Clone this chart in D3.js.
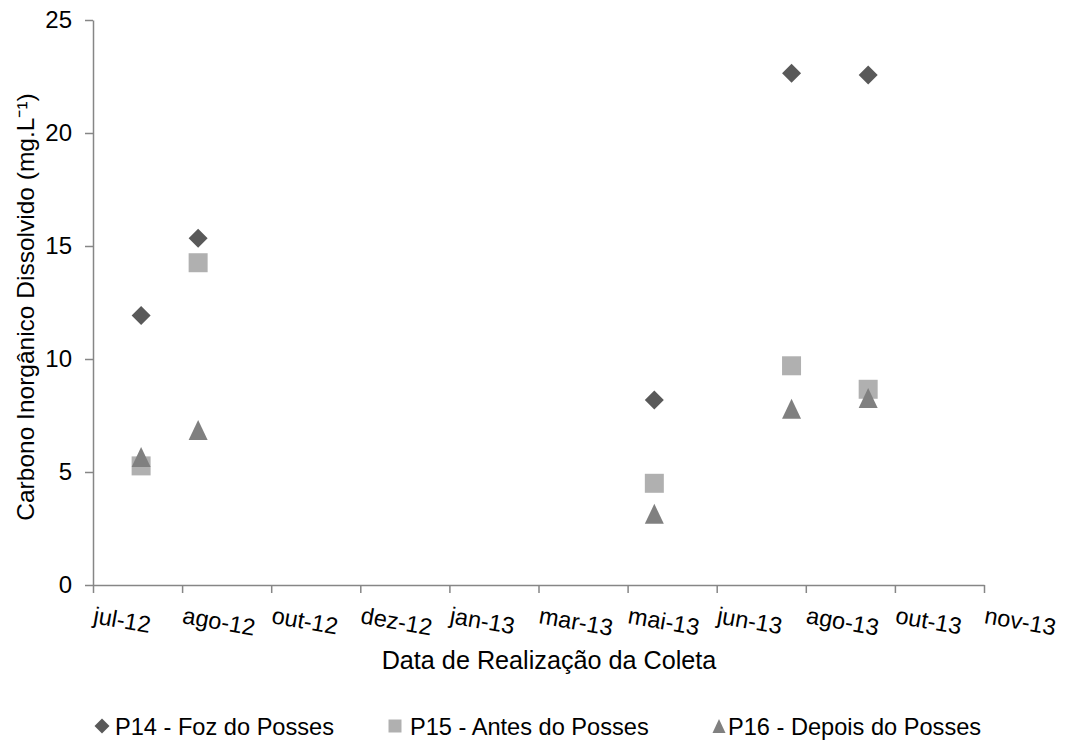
<!DOCTYPE html>
<html>
<head>
<meta charset="utf-8">
<script src="https://cdn.jsdelivr.net/npm/d3@7"></script>
<style>
  html, body { margin: 0; padding: 0; background: #fff; }
  svg { display: block; font-family: "Liberation Sans", Arial, sans-serif; }
</style>
</head>
<body>
<svg id="chart" width="1075" height="742"></svg>
<script>
// Sampling dates for each collection
const sampleDates = ["2012-08-06", "2012-09-07", "2013-05-21", "2013-08-06", "2013-09-18"];

// Dissolved inorganic carbon (mg/L) per sampling point
const p14 = [11.92, 15.34, 8.19, 22.64, 22.57];
const p15 = [5.27, 14.26, 4.50, 9.70, 8.66];
const p16 = [5.66, 6.86, 3.15, 7.80, 8.27];

const seriesNames = ["P14 - Foz do Posses", "P15 - Antes do Posses", "P16 - Depois do Posses"];

// Date axis ticks (50-day major unit)
const tickDates = ["2012-07-10", "2012-08-29", "2012-10-18", "2012-12-07", "2013-01-26",
                   "2013-03-17", "2013-05-06", "2013-06-25", "2013-08-14", "2013-10-03", "2013-11-22"];
const tickLabels = ["jul-12", "ago-12", "out-12", "dez-12", "jan-13", "mar-13",
                    "mai-13", "jun-13", "ago-13", "out-13", "nov-13"];
const yTicks = [0, 5, 10, 15, 20, 25];

const parse = d3.utcParse("%Y-%m-%d");
const tDates = tickDates.map(parse);
const sDates = sampleDates.map(parse);

const svg = d3.select("#chart");
const axisColor = "#868686";
const fontFamily = "Liberation Sans, Arial, sans-serif";

const x = d3.scaleUtc().domain([tDates[0], tDates[tDates.length - 1]]).range([93, 984]);
const y = d3.scaleLinear().domain([0, 25]).range([585, 20]);

// Marker shapes
const diamond = { draw(ctx, size) { const r = Math.sqrt(size) / 2;
  ctx.moveTo(0, -r); ctx.lineTo(r, 0); ctx.lineTo(0, r); ctx.lineTo(-r, 0); ctx.closePath(); } };
const square = { draw(ctx, size) { const r = Math.sqrt(size) / 2;
  ctx.rect(-r, -r, 2 * r, 2 * r); } };
const triangle = { draw(ctx, size) { const r = Math.sqrt(size) / 2;
  ctx.moveTo(0, -r - 0.5); ctx.lineTo(r, r + 0.5); ctx.lineTo(-r, r + 0.5); ctx.closePath(); } };

const series = [
  { name: seriesNames[0], values: p14, type: diamond, color: "#595959", size: 19, legendSize: 15 },
  { name: seriesNames[1], values: p15, type: square, color: "#b0b0b0", size: 19, legendSize: 13 },
  { name: seriesNames[2], values: p16, type: triangle, color: "#808080", size: 19, legendSize: 13 }
];

// Y axis
const yAxis = svg.append("g")
  .attr("transform", "translate(93,0)")
  .call(d3.axisLeft(y).tickValues(yTicks).tickSize(8).tickPadding(13).tickSizeOuter(0));
yAxis.select(".domain").attr("stroke", axisColor).attr("stroke-width", 1.5);
yAxis.selectAll(".tick line").attr("stroke", axisColor).attr("stroke-width", 1.5);
yAxis.selectAll(".tick text").attr("fill", "#000").attr("font-size", 24)
  .attr("font-family", fontFamily);

// X axis
const xAxis = svg.append("g")
  .attr("transform", "translate(0,585)")
  .call(d3.axisBottom(x).tickValues(tDates).tickFormat((d, i) => tickLabels[i])
    .tickSize(8).tickSizeOuter(0));
xAxis.select(".domain").attr("stroke", axisColor).attr("stroke-width", 1.5);
xAxis.selectAll(".tick line").attr("stroke", axisColor).attr("stroke-width", 1.5);
xAxis.selectAll(".tick text")
  .attr("fill", "#000").attr("font-size", 23.5)
  .attr("font-family", fontFamily)
  .attr("text-anchor", "start")
  .attr("dy", null).attr("y", null)
  .attr("transform", "translate(-1,38) rotate(10)");

// Axis titles
svg.append("text")
  .attr("x", 549).attr("y", 669)
  .attr("text-anchor", "middle").attr("font-size", 25.2).attr("fill", "#000")
  .text("Data de Realização da Coleta");

svg.append("text")
  .attr("transform", "translate(34,307) rotate(-90)")
  .attr("text-anchor", "middle").attr("font-size", 24.5).attr("fill", "#000")
  .text("Carbono Inorgânico Dissolvido (mg.L⁻¹)");

// Points
series.forEach(s => {
  svg.append("g").selectAll("path")
    .data(s.values)
    .join("path")
    .attr("transform", (d, i) => `translate(${x(sDates[i])},${y(d)})`)
    .attr("d", d3.symbol().type(s.type).size(s.size * s.size))
    .attr("fill", s.color);
});

// Legend
const legendMarkX = [102, 395, 719];
const legendTextX = [115, 410, 728];
const legend = svg.append("g");
series.forEach((s, i) => {
  legend.append("path")
    .attr("transform", `translate(${legendMarkX[i]},726)`)
    .attr("d", d3.symbol().type(s.type).size(s.legendSize * s.legendSize))
    .attr("fill", s.color);
  legend.append("text")
    .attr("x", legendTextX[i]).attr("y", 735)
    .attr("font-size", 23.6).attr("fill", "#000")
    .text(s.name);
});
</script>
</body>
</html>
